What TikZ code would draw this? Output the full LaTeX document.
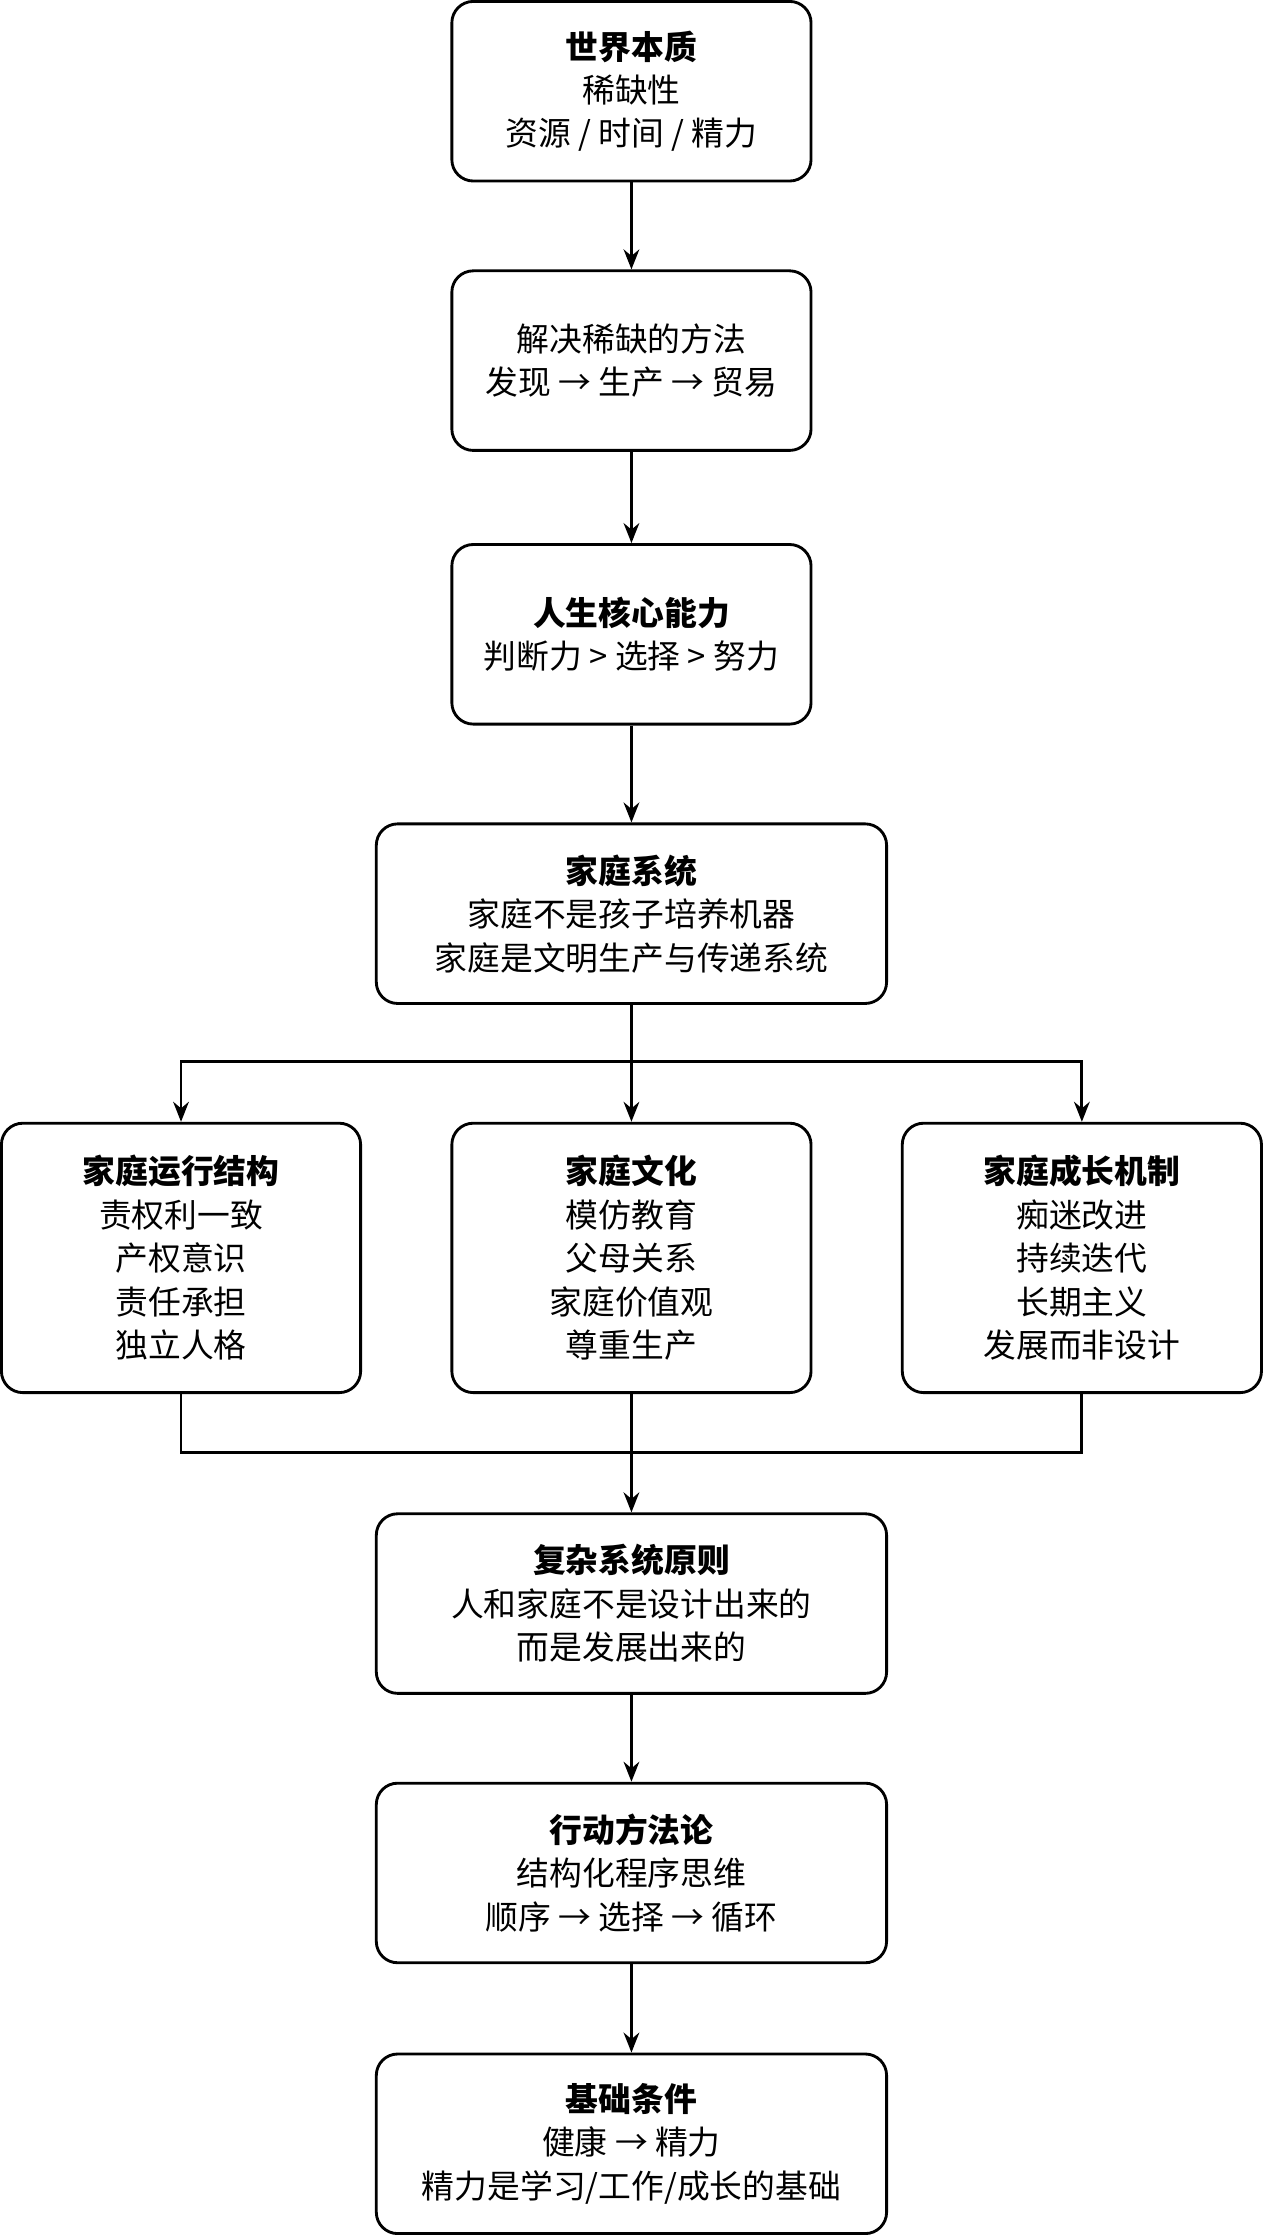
\documentclass[tikz,border=0pt]{standalone}
\usepackage{fontspec}
\setmainfont{Noto Sans CJK SC}
\usetikzlibrary{arrows.meta}
\begin{document}
\begin{tikzpicture}[x=1pt,y=-1pt,
  box/.style={draw,line width=2pt,rounded corners=15pt,align=center,inner sep=0pt,
    font=\fontsize{23}{30.5}\selectfont},
  w1/.style={box,minimum width=252pt,minimum height=126pt},
  w2/.style={box,minimum width=358pt,minimum height=126pt},
  w3/.style={box,minimum width=252pt,minimum height=189pt},
  con/.style={line width=2pt},
  arr/.style={con,-{Stealth[length=14pt,width=11pt]}}]
\useasboundingbox (0,0) rectangle (887,1568);
\node[w1] (b1) at (443,64) {\textbf{世界本质}\\稀缺性\\资源 / 时间 / 精力};
\node[w1] (b2) at (443,253) {解决稀缺的方法\\发现 → 生产 → 贸易};
\node[w1] (b3) at (443,445) {\textbf{人生核心能力}\\判断力 > 选择 > 努力};
\node[w2] (b4) at (443,641) {\textbf{家庭系统}\\家庭不是孩子培养机器\\家庭是文明生产与传递系统};
\node[w3] (b5a) at (127,882.5) {\textbf{家庭运行结构}\\责权利一致\\产权意识\\责任承担\\独立人格};
\node[w3] (b5b) at (443,882.5) {\textbf{家庭文化}\\模仿教育\\父母关系\\家庭价值观\\尊重生产};
\node[w3] (b5c) at (759,882.5) {\textbf{家庭成长机制}\\痴迷改进\\持续迭代\\长期主义\\发展而非设计};
\node[w2] (b6) at (443,1125) {\textbf{复杂系统原则}\\人和家庭不是设计出来的\\而是发展出来的};
\node[w2] (b7) at (443,1314) {\textbf{行动方法论}\\结构化程序思维\\顺序 → 选择 → 循环};
\node[w2] (b8) at (443,1504) {\textbf{基础条件}\\健康 → 精力\\精力是学习/工作/成长的基础};
\draw[arr] (b1) -- (b2);
\draw[arr] (b2) -- (b3);
\draw[arr] (b3) -- (b4);
\coordinate (s) at (443,745);
\coordinate (m) at (443,1019);
\draw[arr] (b4.south) -- (b5b.north);
\draw[arr] (s) -| (b5a.north);
\draw[arr] (s) -| (b5c.north);
\draw[arr] (b5b.south) -- (b6.north);
\draw[con] (b5a.south) |- (m);
\draw[con] (b5c.south) |- (m);
\draw[arr] (b6) -- (b7);
\draw[arr] (b7) -- (b8);
\end{tikzpicture}
\end{document}
